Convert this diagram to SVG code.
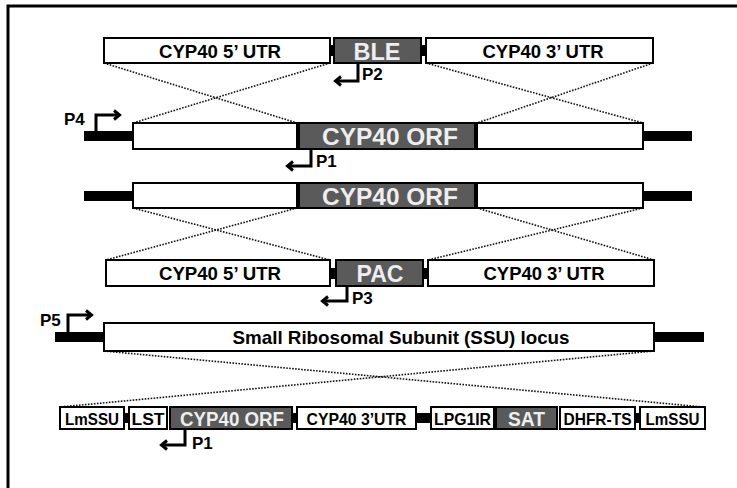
<svg xmlns="http://www.w3.org/2000/svg" width="737" height="488" viewBox="0 0 737 488">
<defs>
<style>
.box{fill:#fff;stroke:#000;stroke-width:2}
.dk{fill:#5a5a5a;stroke:#000;stroke-width:2}
.bar{fill:#000}
.t{font-family:"Liberation Sans",Arial,sans-serif;font-weight:bold;fill:#000;text-anchor:middle}
.tw{font-family:"Liberation Sans",Arial,sans-serif;font-weight:bold;fill:#eeeeee;text-anchor:middle}
.pl{font-family:"Liberation Sans",Arial,sans-serif;font-weight:bold;fill:#000;font-size:17px}
.dot{stroke:#111;stroke-width:1.6;stroke-dasharray:1.6 1.4;fill:none}
.arr{stroke:#000;stroke-width:3;fill:none;marker-end:url(#ah)}
</style>
<marker id="ah" markerWidth="10" markerHeight="12" refX="6" refY="6" orient="auto" markerUnits="userSpaceOnUse">
<path d="M1,1.5 L6.5,6 L1,10.5" fill="none" stroke="#000" stroke-width="3"/>
</marker>
</defs>
<rect width="737" height="488" fill="#fff"/>
<path d="M8,488 V6 H737" fill="none" stroke="#000" stroke-width="3"/>

<g id="connectors">
<line class="dot" x1="104" y1="63" x2="297" y2="123"/>
<line class="dot" x1="330" y1="63" x2="133" y2="123"/>
<line class="dot" x1="426" y1="63" x2="643" y2="123"/>
<line class="dot" x1="653" y1="63" x2="477" y2="123"/>
<line class="dot" x1="133" y1="208" x2="330" y2="260"/>
<line class="dot" x1="297" y1="208" x2="106" y2="260"/>
<line class="dot" x1="477" y1="208" x2="654" y2="260"/>
<line class="dot" x1="643" y1="208" x2="428" y2="260"/>
<line class="dot" x1="104" y1="351" x2="703" y2="407"/>
<line class="dot" x1="654" y1="351" x2="60" y2="407"/>
</g>

<g id="row1">
<rect class="bar" x="328" y="45" width="8" height="11"/>
<rect class="bar" x="419" y="45" width="9" height="11"/>
<rect class="box" x="104" y="38" width="226" height="25"/>
<rect class="dk" x="334" y="38" width="87" height="25"/>
<rect class="box" x="426" y="38" width="227" height="25"/>
<text class="t" x="220" y="57.5" font-size="19" textLength="122" lengthAdjust="spacingAndGlyphs">CYP40 5’ UTR</text>
<text class="tw" x="377" y="59.5" font-size="24" textLength="47" lengthAdjust="spacingAndGlyphs">BLE</text>
<text class="t" x="543" y="57.5" font-size="19" textLength="121" lengthAdjust="spacingAndGlyphs">CYP40 3’ UTR</text>
</g>
<g id="P2">
<path class="arr" d="M358,64 V81 H336"/>
<text class="pl" x="362" y="80">P2</text>
</g>

<g id="row2">
<rect class="bar" x="84" y="131" width="608" height="10"/>
<rect class="box" x="133" y="123" width="164" height="26"/>
<rect class="dk" x="299" y="123" width="176" height="26"/>
<rect class="box" x="477" y="123" width="166" height="26"/>
<text class="tw" x="390" y="145" font-size="24" textLength="136" lengthAdjust="spacingAndGlyphs">CYP40 ORF</text>
</g>
<g id="P4">
<path class="arr" d="M96,131 V115 H119"/>
<text class="pl" x="64" y="125">P4</text>
</g>
<g id="P1a">
<path class="arr" d="M311,150 V166 H288"/>
<text class="pl" x="316" y="167">P1</text>
</g>

<g id="row3">
<rect class="bar" x="84" y="191" width="608" height="10"/>
<rect class="box" x="133" y="183" width="164" height="25"/>
<rect class="dk" x="299" y="183" width="176" height="25"/>
<rect class="box" x="477" y="183" width="166" height="25"/>
<text class="tw" x="390" y="204.5" font-size="24" textLength="136" lengthAdjust="spacingAndGlyphs">CYP40 ORF</text>
</g>

<g id="row4">
<rect class="bar" x="328" y="268" width="10" height="11"/>
<rect class="bar" x="421" y="268" width="9" height="11"/>
<rect class="box" x="106" y="260" width="224" height="26"/>
<rect class="dk" x="336" y="260" width="87" height="26"/>
<rect class="box" x="428" y="260" width="226" height="26"/>
<text class="t" x="220" y="280" font-size="19" textLength="122" lengthAdjust="spacingAndGlyphs">CYP40 5’ UTR</text>
<text class="tw" x="380" y="282" font-size="24" textLength="47" lengthAdjust="spacingAndGlyphs">PAC</text>
<text class="t" x="544" y="280" font-size="19" textLength="121" lengthAdjust="spacingAndGlyphs">CYP40 3’ UTR</text>
</g>
<g id="P3">
<path class="arr" d="M347,287 V301 H323"/>
<text class="pl" x="352" y="304">P3</text>
</g>

<g id="row5">
<rect class="bar" x="55" y="332" width="649" height="10"/>
<rect class="box" x="104" y="323" width="550" height="28"/>
<text class="t" x="401" y="344" font-size="19" textLength="337" lengthAdjust="spacingAndGlyphs">Small Ribosomal Subunit (SSU) locus</text>
</g>
<g id="P5">
<path class="arr" d="M68,332 V315 H91"/>
<text class="pl" x="40" y="326">P5</text>
</g>

<g id="row6">
<rect class="bar" x="122" y="413" width="9" height="10"/>
<rect class="bar" x="290" y="413" width="9" height="10"/>
<rect class="bar" x="414" y="413" width="19" height="10"/>
<rect class="bar" x="633" y="413" width="9" height="10"/>
<rect class="box" x="60" y="407" width="64" height="22"/>
<rect class="box" x="129" y="407" width="38" height="22"/>
<rect class="dk" x="170" y="407" width="122" height="22"/>
<rect class="box" x="297" y="407" width="119" height="22"/>
<rect class="box" x="431" y="407" width="63" height="22"/>
<rect class="dk" x="496" y="407" width="61" height="22"/>
<rect class="box" x="560" y="407" width="75" height="22"/>
<rect class="box" x="640" y="407" width="65" height="22"/>
<text class="t" x="92" y="424.5" font-size="17" textLength="54" lengthAdjust="spacingAndGlyphs">LmSSU</text>
<text class="t" x="148" y="424.5" font-size="17" textLength="33" lengthAdjust="spacingAndGlyphs">LST</text>
<text class="tw" x="232" y="425.5" font-size="20" textLength="104" lengthAdjust="spacingAndGlyphs">CYP40 ORF</text>
<text class="t" x="356.5" y="424.5" font-size="17" textLength="100" lengthAdjust="spacingAndGlyphs">CYP40 3’UTR</text>
<text class="t" x="462.5" y="424.5" font-size="17" textLength="57" lengthAdjust="spacingAndGlyphs">LPG1IR</text>
<text class="tw" x="526.5" y="425.5" font-size="20" textLength="37" lengthAdjust="spacingAndGlyphs">SAT</text>
<text class="t" x="597.5" y="424.5" font-size="17" textLength="68" lengthAdjust="spacingAndGlyphs">DHFR-TS</text>
<text class="t" x="672.5" y="424.5" font-size="17" textLength="54" lengthAdjust="spacingAndGlyphs">LmSSU</text>
</g>
<g id="P1b">
<path class="arr" d="M185,430 V445 H162"/>
<text class="pl" x="192" y="449">P1</text>
</g>
</svg>
